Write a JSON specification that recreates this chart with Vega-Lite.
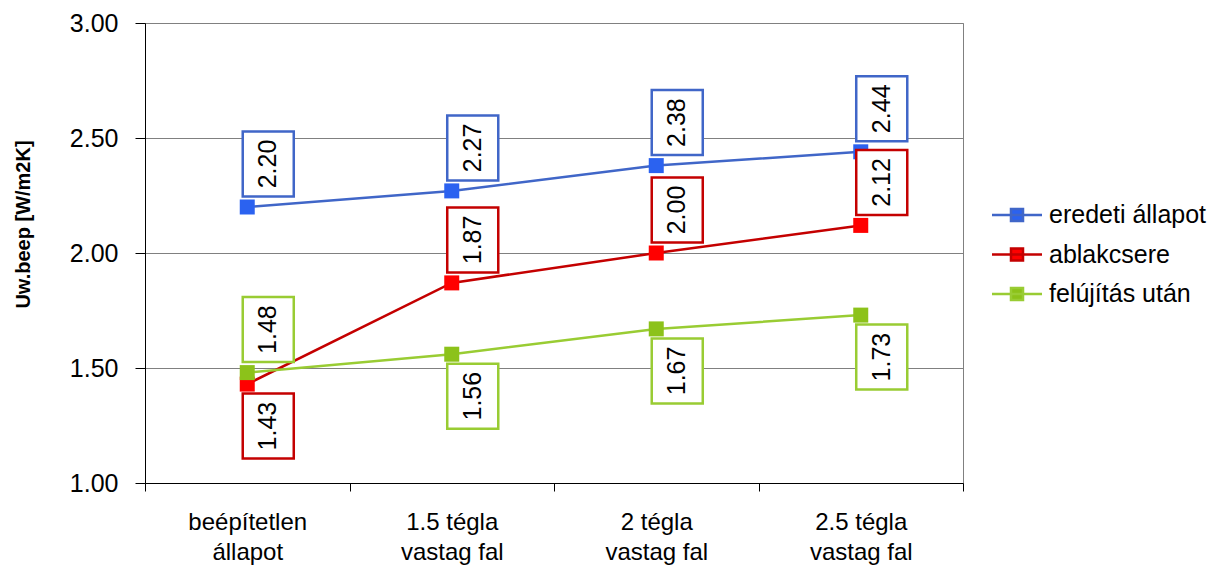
{
  "$schema": "https://vega.github.io/schema/vega-lite/v6.json",
  "width": 818,
  "height": 460,
  "autosize": {"type": "none"},
  "padding": {"left": 145, "top": 23, "right": 259, "bottom": 88},
  "background": "white",
  "config": {
    "font": "Liberation Sans",
    "view": {"stroke": "#808080", "strokeWidth": 1}
  },
  "data": {
    "values": [
      {"fal": "beépítetlen állapot", "sorozat": "eredeti állapot", "Uw": 2.20},
      {"fal": "1.5 tégla vastag fal", "sorozat": "eredeti állapot", "Uw": 2.27},
      {"fal": "2 tégla vastag fal", "sorozat": "eredeti állapot", "Uw": 2.38},
      {"fal": "2.5 tégla vastag fal", "sorozat": "eredeti állapot", "Uw": 2.44},
      {"fal": "beépítetlen állapot", "sorozat": "ablakcsere", "Uw": 1.43},
      {"fal": "1.5 tégla vastag fal", "sorozat": "ablakcsere", "Uw": 1.87},
      {"fal": "2 tégla vastag fal", "sorozat": "ablakcsere", "Uw": 2.00},
      {"fal": "2.5 tégla vastag fal", "sorozat": "ablakcsere", "Uw": 2.12},
      {"fal": "beépítetlen állapot", "sorozat": "felújítás után", "Uw": 1.48},
      {"fal": "1.5 tégla vastag fal", "sorozat": "felújítás után", "Uw": 1.56},
      {"fal": "2 tégla vastag fal", "sorozat": "felújítás után", "Uw": 1.67},
      {"fal": "2.5 tégla vastag fal", "sorozat": "felújítás után", "Uw": 1.73}
    ]
  },
  "encoding": {
    "x": {
      "field": "fal",
      "type": "nominal",
      "sort": ["beépítetlen állapot", "1.5 tégla vastag fal", "2 tégla vastag fal", "2.5 tégla vastag fal"],
      "scale": {"type": "band", "paddingInner": 0, "paddingOuter": 0},
      "axis": {
        "title": null,
        "labelAngle": 0,
        "tickBand": "extent",
        "tickSize": 8,
        "tickColor": "black",
        "domainColor": "black",
        "labelColor": "black",
        "labelFontSize": 24,
        "labelPadding": 19,
        "labelLineHeight": 30,
        "labelBaseline": "top",
        "grid": false,
        "labelExpr": "datum.label == '' ? '' : datum.label == 'beépítetlen állapot' ? ['beépítetlen', 'állapot'] : [slice(datum.label, 0, indexof(datum.label, ' vastag')), 'vastag fal']"
      }
    },
    "y": {
      "field": "Uw",
      "type": "quantitative",
      "scale": {"domain": [1, 3], "nice": false, "zero": false},
      "axis": {
        "values": [1, 1.5, 2, 2.5, 3],
        "format": ".2f",
        "grid": true,
        "gridColor": "#808080",
        "gridOpacity": 1,
        "domainColor": "black",
        "tickColor": "black",
        "tickSize": 10,
        "labelPadding": 17,
        "labelFontSize": 25,
        "labelColor": "black",
        "title": "Uw.beep [W/m2K]",
        "titleFontSize": 20,
        "titleFontWeight": "bold",
        "titleColor": "black",
        "titleAngle": 270,
        "titleAlign": "center",
        "titleBaseline": "middle",
        "titleX": -122,
        "titleY": 201
      }
    }
  },
  "layer": [
    {
      "mark": {"type": "line", "strokeWidth": 2.5},
      "encoding": {
        "stroke": {
          "field": "sorozat",
          "type": "nominal",
          "scale": {
            "domain": ["eredeti állapot", "ablakcsere", "felújítás után"],
            "range": ["#4066c8", "#c40000", "#99cc33"]
          },
          "legend": {
            "orient": "none",
            "legendX": 858,
            "legendY": 178,
            "title": null,
            "symbolType": "M-2,0H2M-0.48,-0.48H0.48V0.48H-0.48Z",
            "symbolSize": 625,
            "symbolStrokeWidth": 2.5,
            "labelFontSize": 25,
            "labelColor": "black",
            "labelOffset": 18,
            "rowPadding": 12.5,
            "encode": {
              "symbols": {
                "update": {
                  "fill": {"scale": "fill", "field": "value"},
                  "stroke": {"scale": "stroke", "field": "value"},
                  "opacity": {"value": 1}
                }
              }
            }
          }
        }
      }
    },
    {
      "mark": {"type": "point", "shape": "square", "size": 225, "filled": true, "opacity": 1},
      "encoding": {
        "fill": {
          "field": "sorozat",
          "type": "nominal",
          "scale": {
            "domain": ["eredeti állapot", "ablakcsere", "felújítás után"],
            "range": ["#2b62f0", "#ff0000", "#8cc21a"]
          },
          "legend": {
            "orient": "none",
            "legendX": 858,
            "legendY": 178,
            "title": null,
            "symbolType": "M-2,0H2M-0.48,-0.48H0.48V0.48H-0.48Z",
            "symbolSize": 625,
            "symbolStrokeWidth": 2.5,
            "labelFontSize": 25,
            "labelColor": "black",
            "labelOffset": 18,
            "rowPadding": 12.5,
            "encode": {
              "symbols": {
                "update": {
                  "fill": {"scale": "fill", "field": "value"},
                  "stroke": {"scale": "stroke", "field": "value"},
                  "opacity": {"value": 1}
                }
              }
            }
          }
        }
      }
    },
    {
      "transform": [
        {"filter": "!((datum.sorozat == 'ablakcsere' && datum.fal == 'beépítetlen állapot') || (datum.sorozat == 'felújítás után' && datum.fal != 'beépítetlen állapot'))"}
      ],
      "layer": [
        {
          "mark": {"type": "point", "shape": "M-0.785,-1H0.785V1H-0.785Z", "size": 4225, "filled": false, "fill": "white", "fillOpacity": 1, "opacity": 1, "strokeWidth": 2.5, "xOffset": 21, "yOffset": -43},
          "encoding": {"stroke": {"field": "sorozat", "type": "nominal"}}
        },
        {
          "mark": {"type": "text", "angle": 270, "fontSize": 25, "align": "center", "baseline": "middle", "color": "black", "xOffset": 21, "yOffset": -43},
          "encoding": {"text": {"field": "Uw", "type": "quantitative", "format": ".2f"}}
        }
      ]
    },
    {
      "transform": [
        {"filter": "(datum.sorozat == 'ablakcsere' && datum.fal == 'beépítetlen állapot') || (datum.sorozat == 'felújítás után' && datum.fal != 'beépítetlen állapot')"}
      ],
      "layer": [
        {
          "mark": {"type": "point", "shape": "M-0.785,-1H0.785V1H-0.785Z", "size": 4225, "filled": false, "fill": "white", "fillOpacity": 1, "opacity": 1, "strokeWidth": 2.5, "xOffset": 21, "yOffset": 42},
          "encoding": {"stroke": {"field": "sorozat", "type": "nominal"}}
        },
        {
          "mark": {"type": "text", "angle": 270, "fontSize": 25, "align": "center", "baseline": "middle", "color": "black", "xOffset": 21, "yOffset": 42},
          "encoding": {"text": {"field": "Uw", "type": "quantitative", "format": ".2f"}}
        }
      ]
    }
  ]
}
